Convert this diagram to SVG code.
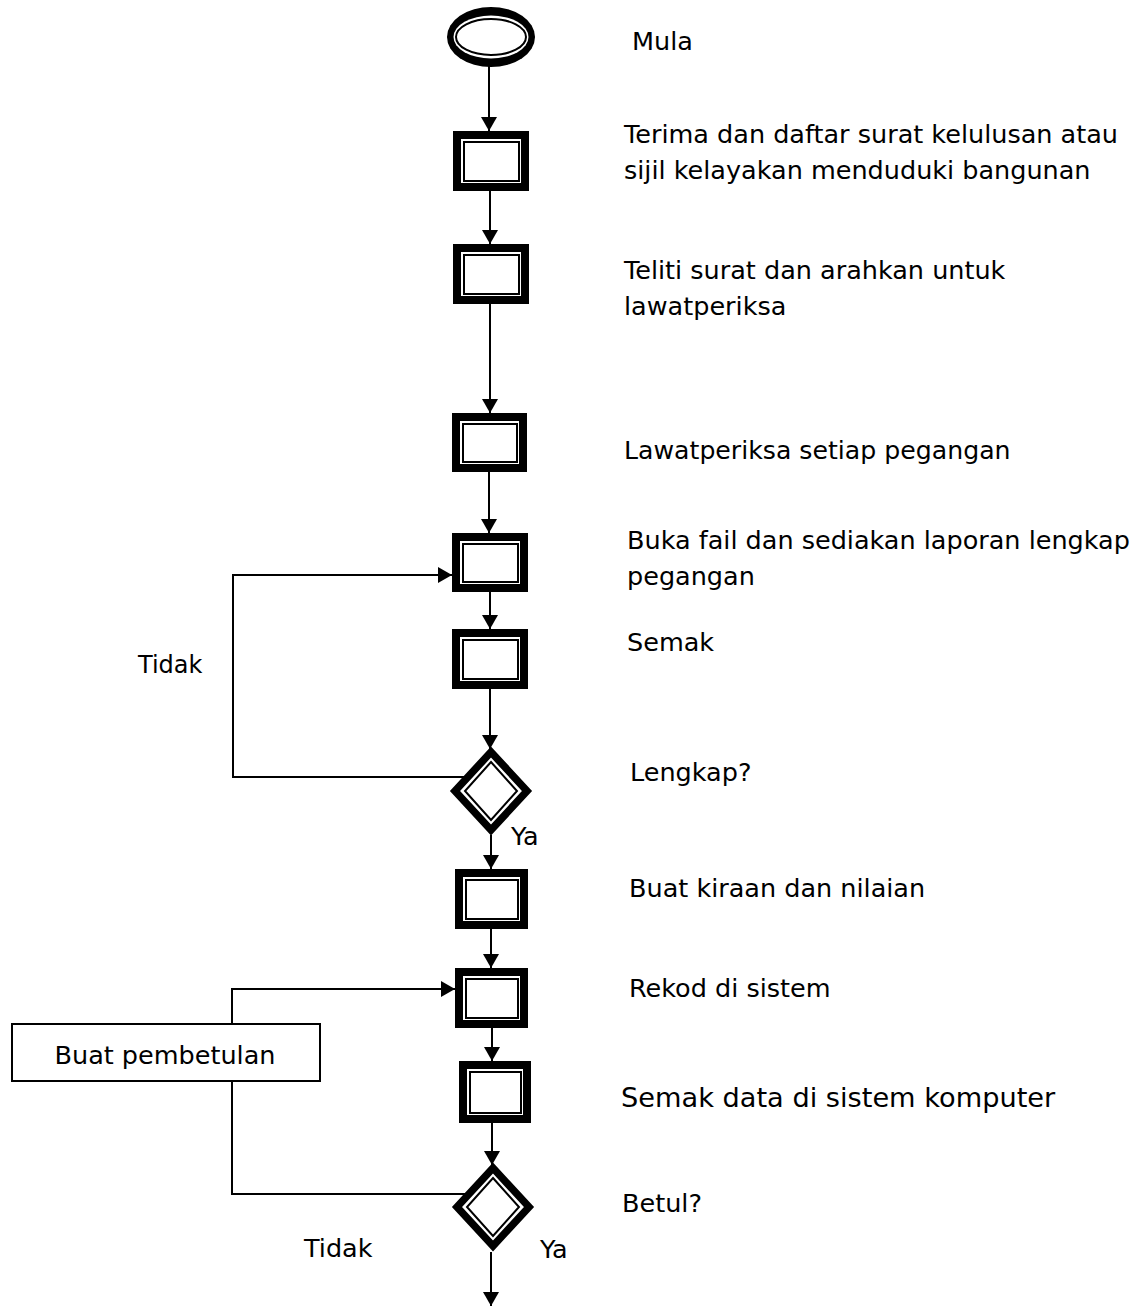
<svg xmlns="http://www.w3.org/2000/svg" width="1143" height="1307" viewBox="0 0 1143 1307">
<style>
text{font-family:"DejaVu Sans",Verdana,sans-serif;font-size:25.5px;fill:#000}
.outer{fill:none;stroke:#000;stroke-width:8}
.douter{fill:none;stroke:#000;stroke-width:7.5}
.inner{fill:#fff;stroke:#000;stroke-width:2}
.ln{fill:none;stroke:#000;stroke-width:2}
.plain{fill:#fff;stroke:#000;stroke-width:2}
</style>
<defs>
<marker id="ah" viewBox="0 0 14 16" refX="14" refY="8" markerWidth="14" markerHeight="16" markerUnits="userSpaceOnUse" orient="auto">
<path d="M0,0 L14,8 L0,16 Z" fill="#000"/>
</marker>
</defs>
<rect width="1143" height="1307" fill="#fff"/>
<g id="connectors">
<line class="ln" x1="489" y1="66" x2="489" y2="131" marker-end="url(#ah)"/>
<line class="ln" x1="490" y1="191" x2="490" y2="244" marker-end="url(#ah)"/>
<line class="ln" x1="490" y1="304" x2="490" y2="413" marker-end="url(#ah)"/>
<line class="ln" x1="489" y1="472" x2="489" y2="533" marker-end="url(#ah)"/>
<line class="ln" x1="490" y1="592" x2="490" y2="629" marker-end="url(#ah)"/>
<line class="ln" x1="490" y1="689" x2="490" y2="749" marker-end="url(#ah)"/>
<line class="ln" x1="491" y1="835" x2="491" y2="869" marker-end="url(#ah)"/>
<line class="ln" x1="491" y1="929" x2="491" y2="968" marker-end="url(#ah)"/>
<line class="ln" x1="492" y1="1028" x2="492" y2="1061" marker-end="url(#ah)"/>
<line class="ln" x1="492" y1="1123" x2="492" y2="1165" marker-end="url(#ah)"/>
<line class="ln" x1="491" y1="1252" x2="491" y2="1306" marker-end="url(#ah)"/>
<polyline class="ln" points="464,777 233,777 233,575 452,575" marker-end="url(#ah)"/>
<polyline class="ln" points="232,1024 232,989 455,989" marker-end="url(#ah)"/>
<polyline class="ln" points="232,1081 232,1194 465,1194"/>
</g>
<g id="start">
<ellipse cx="491" cy="37" rx="44" ry="30" fill="#000"/>
<ellipse cx="491" cy="37" rx="37.5" ry="21.5" fill="#fff"/>
<ellipse cx="491" cy="37" rx="35" ry="18" class="inner" stroke-width="1.8"/>
</g>
<g id="n1"><rect x="457" y="135" width="68" height="52" class="outer"/><rect x="464" y="142" width="55" height="39" class="inner"/></g>
<g id="n2"><rect x="457" y="248" width="68" height="52" class="outer"/><rect x="464" y="255" width="55" height="39" class="inner"/></g>
<g id="n3"><rect x="456" y="417" width="67" height="51" class="outer"/><rect x="463" y="424" width="54" height="38" class="inner"/></g>
<g id="n4"><rect x="456" y="537" width="68" height="51" class="outer"/><rect x="463" y="544" width="55" height="38" class="inner"/></g>
<g id="n5"><rect x="456" y="633" width="68" height="52" class="outer"/><rect x="463" y="640" width="55" height="39" class="inner"/></g>
<g id="d1"><polygon points="491,752 527,791 491,830 455,791" class="douter"/><polygon points="491,762 517,791 491,820 465,791" class="inner"/></g>
<g id="n6"><rect x="459" y="873" width="65" height="52" class="outer"/><rect x="466" y="880" width="52" height="39" class="inner"/></g>
<g id="n7"><rect x="459" y="972" width="65" height="52" class="outer"/><rect x="466" y="979" width="52" height="39" class="inner"/></g>
<g id="n8"><rect x="463" y="1065" width="64" height="54" class="outer"/><rect x="470" y="1072" width="51" height="41" class="inner"/></g>
<g id="d2"><polygon points="493,1168 529,1207 493,1246 457,1207" class="douter"/><polygon points="493,1178 519,1207 493,1236 467,1207" class="inner"/></g>
<g id="fix"><rect x="12" y="1024" width="308" height="57" class="plain"/><text x="165" y="1064" text-anchor="middle">Buat pembetulan</text></g>
<g id="labels">
<text x="632" y="50">Mula</text>
<text x="624" y="143">Terima dan daftar surat kelulusan atau</text>
<text x="624" y="179">sijil kelayakan menduduki bangunan</text>
<text x="624" y="279">Teliti surat dan arahkan untuk</text>
<text x="624" y="315">lawatperiksa</text>
<text x="624" y="459" style="font-size:25.2px">Lawatperiksa setiap pegangan</text>
<text x="627" y="549">Buka fail dan sediakan laporan lengkap</text>
<text x="627" y="585">pegangan</text>
<text x="627" y="651">Semak</text>
<text x="630" y="781">Lengkap?</text>
<text x="629" y="897">Buat kiraan dan nilaian</text>
<text x="629" y="997">Rekod di sistem</text>
<text x="621" y="1107" style="font-size:27.2px">Semak data di sistem komputer</text>
<text x="622" y="1212">Betul?</text>
<text x="138" y="673" style="font-size:24px">Tidak</text>
<text x="511" y="845">Ya</text>
<text x="304" y="1257">Tidak</text>
<text x="540" y="1258">Ya</text>
</g>
</svg>
